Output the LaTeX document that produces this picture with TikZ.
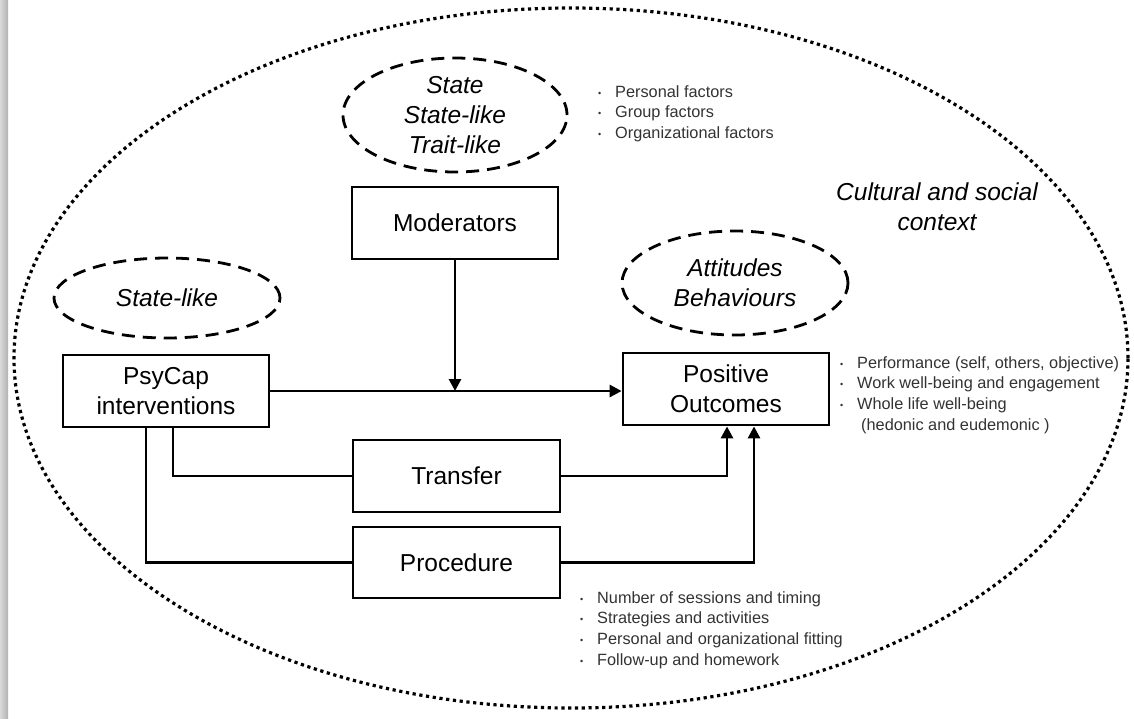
\documentclass[tikz,border=0pt]{standalone}
\usepackage{fontspec}
\setmainfont{Liberation Sans}
\usetikzlibrary{arrows.meta,shapes.geometric,calc}

% bullet item for the small side lists
\newcommand{\bitem}[1]{\makebox[17pt][l]{\raisebox{1pt}{\fontsize{9}{9}\selectfont\textbullet}}#1}

\begin{document}
\begin{tikzpicture}[x=1pt,y=-1pt,
  bigfont/.style={font=\fontsize{24.5}{30}\selectfont},
  box/.style={draw, line width=2.8pt, minimum width=206pt, minimum height=72pt,
              inner sep=0pt, align=center, bigfont},
  oval/.style={ellipse, draw, line width=2.8pt, dash pattern=on 13pt off 8pt,
               inner sep=0pt, align=center, font=\fontsize{24.5}{30}\selectfont\itshape},
  link/.style={line width=2.8pt},
  arr/.style={link, -{Triangle[length=12pt,width=12pt]}},
  notes/.style={anchor=north west, align=left, inner sep=0pt, text=black!80,
                font=\fontsize{16.3}{20.7}\selectfont}
]
\useasboundingbox (0,0) rectangle (1134,718);
\fill[white] (0,0) rectangle (1134,718);
\shade[left color=gray!30, right color=gray!60] (0,0) rectangle (8,718);

% surrounding context
\node[ellipse, draw, line width=3.2pt, dash pattern=on 3.2pt off 3.6pt,
      minimum width=1114pt, minimum height=700pt, inner sep=0pt] (ctx) at (571,358) {};
\node[align=center, font=\fontsize{24.5}{30}\selectfont\itshape] (ctxlabel) at (937,207)
  {Cultural and social\\context};

% characteristic ovals
\node[oval, minimum width=224pt, minimum height=114pt] (modtype) at (455,115)
  {State\\State-like\\Trait-like};
\node[oval, minimum width=226pt, minimum height=80pt] (psytype) at (167,298) {State-like};
\node[oval, minimum width=226pt, minimum height=104pt] (outtype) at (735,283)
  {Attitudes\\Behaviours};

% main boxes
\node[box] (mod) at (455,223) {Moderators};
\node[box] (psy) at (166,391) {PsyCap\\interventions};
\node[box] (po)  at (726,389) {Positive\\Outcomes};
\node[box, minimum width=207pt] (tr) at (456.5,476) {Transfer};
\node[box, minimum width=207pt, minimum height=71pt] (pr) at (456.5,562.5) {Procedure};

% connectors
\draw[arr] (psy.east) -- (psy.east -| po.west);
\coordinate (modhit) at (mod.south |- psy.east);
\draw[arr] (mod.south) -- (modhit);
\draw[link] ([xshift=7pt]psy.south) |- (tr.west);
\draw[link] ([xshift=-20pt]psy.south) |- (pr.west);
\draw[arr] (tr.east) -| ([xshift=1pt]po.south);
\draw[arr] (pr.east) -| ([xshift=28pt]po.south);

% side lists
\node[notes] (modlist) at (598,85)
  {\bitem{Personal factors}\\\bitem{Group factors}\\\bitem{Organizational factors}};
\node[notes] (polist) at (840,356)
  {\bitem{Performance (self, others, objective)}\\\bitem{Work well-being and engagement}\\
   \bitem{Whole life well-being}\\\hspace{21pt}(hedonic and eudemonic )};
\node[notes] (prlist) at (580,591)
  {\bitem{Number of sessions and timing}\\\bitem{Strategies and activities}\\
   \bitem{Personal and organizational fitting}\\\bitem{Follow-up and homework}};
\end{tikzpicture}
\end{document}
